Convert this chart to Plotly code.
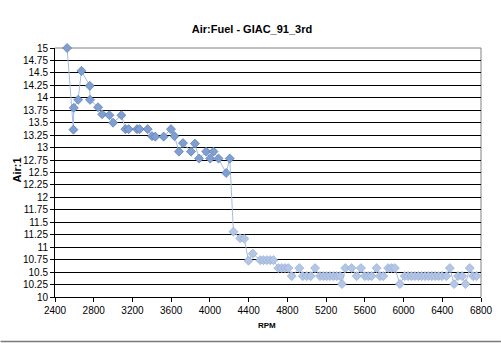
import plotly.graph_objects as go

rpm = [2525, 2590, 2594, 2639, 2673, 2759, 2762, 2845, 2887, 2962, 3000, 3086,
       3127, 3161, 3247, 3274, 3357, 3402, 3436, 3522, 3598, 3634, 3680, 3722,
       3805, 3845, 3888, 3962, 4003, 4037, 4089, 4168, 4205, 4243, 4312, 4355,
       4398, 4443, 4520, 4553, 4588, 4622, 4656, 4707, 4742, 4776, 4810, 4845,
       4924, 4959, 5000, 5041, 5086, 5137, 5172, 5206, 5240, 5275, 5310, 5344,
       5364, 5398, 5464, 5516, 5560, 5600, 5635, 5670, 5722, 5756, 5790, 5841,
       5876, 5910, 5962, 6012, 6047, 6082, 6117, 6152, 6187, 6222, 6257, 6292,
       6327, 6362, 6397, 6443, 6478, 6522, 6563, 6605, 6640, 6684, 6718, 6753]
afr = [15.0, 13.36, 13.8, 13.96, 14.54, 14.24, 13.96, 13.81, 13.67, 13.65, 13.5, 13.65,
       13.37, 13.37, 13.37, 13.37, 13.37, 13.23, 13.22, 13.22, 13.37, 13.23, 12.92, 13.09,
       12.92, 13.08, 12.78, 12.92, 12.78, 12.92, 12.78, 12.49, 12.78, 11.31, 11.18, 11.17,
       10.73, 10.87, 10.74, 10.74, 10.74, 10.74, 10.74, 10.58, 10.58, 10.58, 10.58, 10.42,
       10.58, 10.42, 10.42, 10.42, 10.58, 10.42, 10.42, 10.42, 10.42, 10.42, 10.42, 10.42,
       10.26, 10.58, 10.58, 10.42, 10.58, 10.42, 10.42, 10.42, 10.58, 10.42, 10.42, 10.58,
       10.58, 10.58, 10.26, 10.42, 10.42, 10.42, 10.42, 10.42, 10.42, 10.42, 10.42, 10.42,
       10.42, 10.42, 10.42, 10.42, 10.58, 10.26, 10.42, 10.42, 10.26, 10.58, 10.42, 10.42]

x_ticks = [2400, 2800, 3200, 3600, 4000, 4400, 4800, 5200, 5600, 6000, 6400, 6800]
y_ticks = [10, 10.25, 10.5, 10.75, 11, 11.25, 11.5, 11.75, 12, 12.25, 12.5, 12.75,
           13, 13.25, 13.5, 13.75, 14, 14.25, 14.5, 14.75, 15]
y_tick_text = ["10", "10.25", "10.5", "10.75", "11", "11.25", "11.5", "11.75", "12",
               "12.25", "12.5", "12.75", "13", "13.25", "13.5", "13.75", "14", "14.25",
               "14.5", "14.75", "15"]

title_text = "Air:Fuel - GIAC_91_3rd"
x_title = "RPM"
y_title = "Air:1"

FONT = "Liberation Sans, Arial, sans-serif"

# marker shading: richer blue in the rich region, paler once the curve flattens
marker_colors = ["#7f9fd2" if v > 11.5 else "#b3c6e6" for v in afr]
marker_edges = ["#4f6f a8".replace(" ", "") if v > 11.5 else "#8ea6d0" for v in afr]

fig = go.Figure()
fig.add_trace(go.Scatter(
    x=rpm, y=afr, mode="lines+markers",
    line=dict(color="#a4bce2", width=1),
    marker=dict(symbol="diamond", size=7, color=marker_colors,
                line=dict(color=marker_edges, width=0.6)),
    showlegend=False, cliponaxis=False,
))

L, R, T, B = 54.5, 481, 48, 297
W, H = 501, 343
pw, ph = R - L, B - T

fig.update_layout(
    width=W, height=H,
    margin=dict(l=L, r=W - R, t=T, b=H - B, autoexpand=False),
    paper_bgcolor="white", plot_bgcolor="white",
    font=dict(family=FONT, size=10, color="black"),
    title=dict(text="<b>" + title_text + "</b>", x=252 / W, xanchor="center",
               y=1 - 29 / H, yanchor="middle", font=dict(size=11, family=FONT)),
    xaxis=dict(range=[2400, 6800], tickvals=x_ticks, ticks="outside", ticklen=4,
               tickcolor="black", showline=True, linecolor="black", linewidth=1,
               showgrid=False, zeroline=False, tickfont=dict(size=10)),
    yaxis=dict(range=[10, 15], tickvals=y_ticks, ticktext=y_tick_text, ticks="outside",
               ticklen=4, tickcolor="black", showline=True, linecolor="black",
               linewidth=1, showgrid=True, gridcolor="black", gridwidth=1,
               zeroline=False, tickfont=dict(size=10)),
    shapes=[
        dict(type="line", xref="paper", yref="paper", x0=0, x1=1, y0=1, y1=1,
             line=dict(color="#808080", width=1), layer="between"),
        dict(type="line", xref="paper", yref="paper", x0=1, x1=1, y0=0, y1=1,
             line=dict(color="#808080", width=1), layer="between"),
        dict(type="line", xref="paper", yref="paper", x0=-L / pw, x1=(W - L) / pw,
             y0=-(341.5 - B) / ph, y1=-(341.5 - B) / ph,
             line=dict(color="#7a7a7a", width=1.5)),
    ],
    annotations=[
        dict(text="<b>" + y_title + "</b>", xref="paper", yref="paper",
             x=0, xshift=-(L - 16), y=(B - 170) / ph, textangle=-90,
             showarrow=False, font=dict(size=11, family=FONT),
             xanchor="center", yanchor="middle"),
        dict(text="<b>" + x_title + "</b>", xref="paper", yref="paper",
             x=(267 - L) / pw, y=0, yshift=-(325 - B), showarrow=False,
             font=dict(size=8, family=FONT), xanchor="center", yanchor="middle"),
    ],
)

fig.write_html("out.html")
